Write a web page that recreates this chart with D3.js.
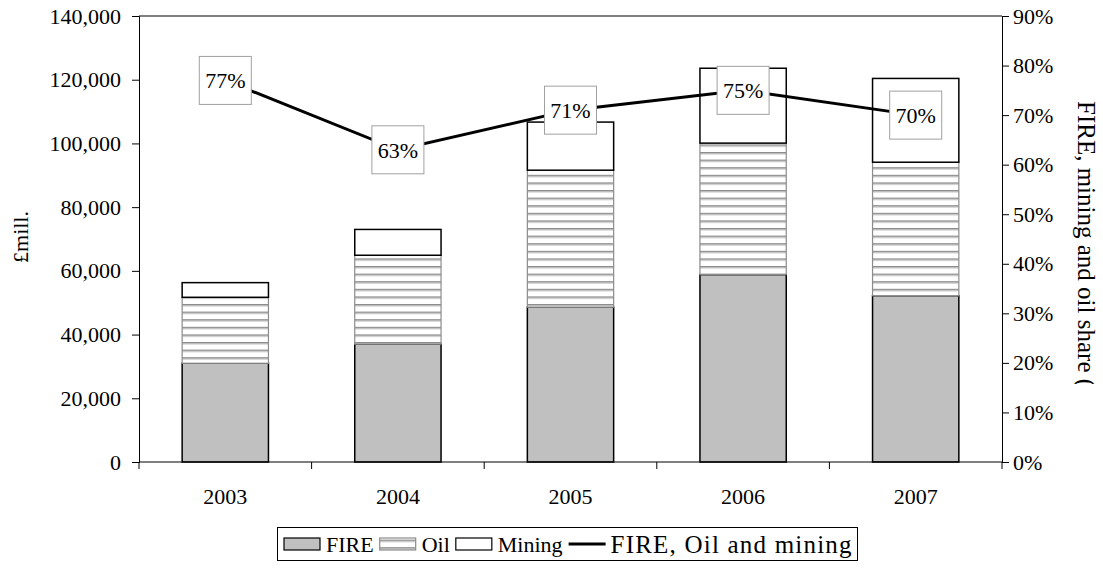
<!DOCTYPE html>
<html>
<head>
<meta charset="utf-8">
<script src="https://cdn.jsdelivr.net/npm/d3@7"></script>
<style>
  html, body { margin: 0; padding: 0; background: #fff; }
  svg { display: block; }
</style>
</head>
<body>
<svg id="chart" width="1103" height="583"></svg>
<script>
// Contribution to output, £ million, stacked by sector
const years = ["2003", "2004", "2005", "2006", "2007"];
const fire = [31000, 37000, 48600, 58800, 52200];
const oil = [20700, 27900, 43000, 41300, 41900];
const mining = [4600, 8100, 15100, 23500, 26300];
// Combined share of FIRE, oil and mining (%)
const share = [77, 63, 71, 75, 70];

const leftTicks = [0, 20000, 40000, 60000, 80000, 100000, 120000, 140000];
const rightTicks = [0, 10, 20, 30, 40, 50, 60, 70, 80, 90];

const seriesNames = ["FIRE", "Oil", "Mining"];
const lineName = "FIRE, Oil and mining";

const FONT_FAMILY = "'Liberation Serif', 'Times New Roman', Times, serif";
const FONT = 22;
const styleText = (sel, size) => sel.style("font-family", FONT_FAMILY)
  .style("font-size", (size || FONT) + "px").style("fill", "#000");

const svg = d3.select("#chart");
const plot = { left: 139, right: 1002, top: 16, bottom: 462 };

const x = d3.scaleBand().domain(years).range([plot.left, plot.right]).paddingInner(0.5).paddingOuter(0.25);
const y = d3.scaleLinear().domain([0, 140000]).range([plot.bottom, plot.top]);
const yR = d3.scaleLinear().domain([0, 90]).range([plot.bottom, plot.top]);

// Horizontal stripes for the oil segment
const defs = svg.append("defs");
const pat = defs.append("pattern")
  .attr("id", "stripes").attr("patternUnits", "userSpaceOnUse")
  .attr("width", 8).attr("height", 7.6);
pat.append("rect").attr("width", 8).attr("height", 7.6).attr("fill", "#fff");
pat.append("rect").attr("y", 0).attr("width", 8).attr("height", 1.6).attr("fill", "#8c8c8c");
pat.append("rect").attr("y", 1.6).attr("width", 8).attr("height", 1).attr("fill", "#d0d0d0");

// The right-hand title runs past the bottom of its area and is cut off
defs.append("clipPath").attr("id", "titleClip")
  .append("rect").attr("x", 1060).attr("y", 0).attr("width", 43).attr("height", 384);

// Plot frame top line
svg.append("line")
  .attr("x1", plot.left).attr("x2", plot.right)
  .attr("y1", plot.top).attr("y2", plot.top)
  .attr("stroke", "#000").attr("stroke-width", 1);

// Stacked bars
const stack = d3.stack().keys([0, 1, 2]).value((d, k) => d[k]);
const rows = years.map((yr, i) => Object.assign([fire[i], oil[i], mining[i]], { year: yr }));
const stacked = stack(rows);
const fills = ["#c0c0c0", "url(#stripes)", "#fff"];
const strokes = ["#000", "#8c8c8c", "#000"];

stacked.forEach((layer, k) => {
  svg.append("g").selectAll("rect")
    .data(layer)
    .join("rect")
    .attr("x", d => x(d.data.year))
    .attr("width", x.bandwidth())
    .attr("y", d => y(d[1]))
    .attr("height", d => y(d[0]) - y(d[1]))
    .attr("fill", fills[k])
    .attr("stroke", strokes[k])
    .attr("stroke-width", k === 1 ? 1.2 : 1.5);
});

// Left axis
const axL = d3.axisLeft(y).tickValues(leftTicks).tickFormat(d3.format(",")).tickSize(7).tickPadding(11);
const gL = svg.append("g").attr("transform", `translate(${plot.left},0)`).call(axL);
// Right axis
const axR = d3.axisRight(yR).tickValues(rightTicks).tickFormat(d => d + "%").tickSize(7).tickPadding(4);
const gR = svg.append("g").attr("transform", `translate(${plot.right},0)`).call(axR);
// Bottom axis with category-boundary ticks
const xEdge = d3.scaleLinear().domain([0, years.length]).range([plot.left, plot.right]);
const gB = svg.append("g").attr("transform", `translate(0,${plot.bottom})`);
gB.append("line").attr("x1", plot.left).attr("x2", plot.right).attr("stroke", "#000");
gB.selectAll("line.tick").data(d3.range(years.length + 1)).join("line")
  .attr("class", "tick")
  .attr("x1", d => xEdge(d)).attr("x2", d => xEdge(d))
  .attr("y1", 0).attr("y2", 7).attr("stroke", "#000");
gB.selectAll("text").data(years).join("text")
  .attr("x", d => x(d) + x.bandwidth() / 2)
  .attr("y", 42)
  .attr("text-anchor", "middle")
  .text(d => d)
  .call(styleText);

[gL, gR].forEach(g => {
  g.attr("font-family", null).attr("font-size", null);
  g.select(".domain").attr("stroke", "#000");
  g.selectAll(".tick line").attr("stroke", "#000");
  g.selectAll(".tick text").call(styleText);
});

// Axis titles
svg.append("text")
  .attr("transform", "translate(28,237) rotate(-90)")
  .attr("text-anchor", "middle")
  .text("£mill.")
  .call(styleText);
svg.append("g").attr("clip-path", "url(#titleClip)")
  .append("text")
  .attr("transform", "translate(1078,101) rotate(90)")
  .attr("text-anchor", "start")
  .text("FIRE, mining and oil share (%)")
  .call(styleText, 25);

// Share line
const cx = d => x(d) + x.bandwidth() / 2;
const line = d3.line().x((d, i) => cx(years[i])).y(d => yR(d));
svg.append("path")
  .datum(share)
  .attr("d", line)
  .attr("fill", "none")
  .attr("stroke", "#000")
  .attr("stroke-width", 3);

// Value labels in boxes
const lbl = svg.append("g").selectAll("g").data(share).join("g")
  .attr("transform", (d, i) => `translate(${cx(years[i])},${yR(d)})`);
lbl.append("rect")
  .attr("x", -26).attr("y", -24).attr("width", 52).attr("height", 48)
  .attr("fill", "#fff").attr("stroke", "#a0a0a0").attr("stroke-width", 1);
lbl.append("text")
  .attr("text-anchor", "middle")
  .attr("dy", "0.35em")
  .text(d => d + "%")
  .call(styleText);

// Legend
const legLeft = 277.5, legRight = 857.5;
const leg = svg.append("g");
leg.append("rect")
  .attr("x", legLeft).attr("y", 527.5).attr("width", legRight - legLeft).attr("height", 33)
  .attr("fill", "#fff").attr("stroke", "#000").attr("stroke-width", 1);
const legItems = [
  { name: seriesNames[0], type: "box", fill: fills[0], stroke: "#000" },
  { name: seriesNames[1], type: "box", fill: "url(#stripes)", stroke: "#8c8c8c" },
  { name: seriesNames[2], type: "box", fill: "#fff", stroke: "#000" },
  { name: lineName, type: "line" }
];
let lx = 284;
const ly = 544;
legItems.forEach((it, i) => {
  const last = i === legItems.length - 1;
  if (it.type === "box") {
    leg.append("rect").attr("x", lx).attr("y", ly - 6).attr("width", 36).attr("height", 12)
      .attr("fill", it.fill).attr("stroke", it.stroke).attr("stroke-width", 1.2);
  } else {
    leg.append("line").attr("x1", lx).attr("x2", lx + 37).attr("y1", ly).attr("y2", ly)
      .attr("stroke", "#000").attr("stroke-width", 3);
  }
  const t = leg.append("text").attr("x", lx + 42).attr("y", ly).attr("dy", "0.35em")
    .text(it.name).call(styleText, last ? 25 : FONT);
  if (last) {
    // the line entry's label runs on to the legend's right edge
    t.attr("textLength", legRight - 6 - (lx + 42)).attr("lengthAdjust", "spacing");
  }
  lx += 42 + t.node().getComputedTextLength() + 6;
});
</script>
</body>
</html>
